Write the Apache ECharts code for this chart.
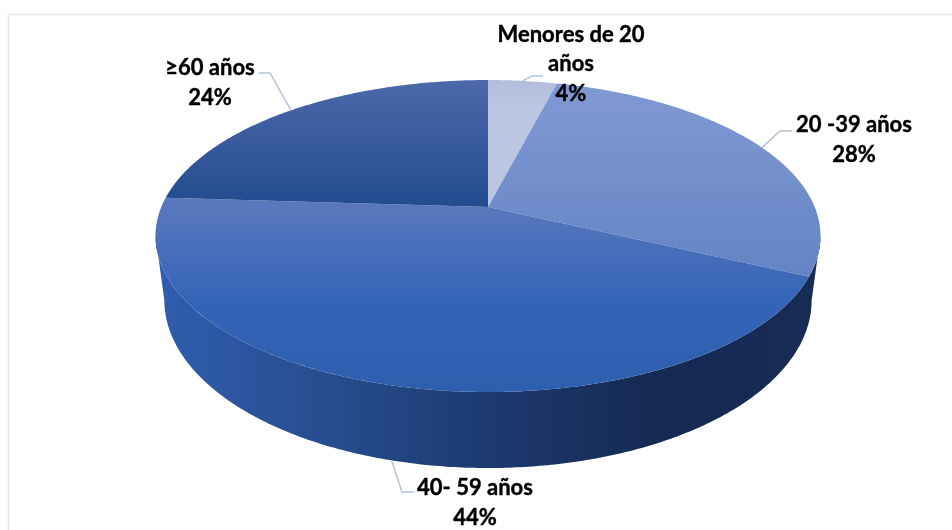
<!DOCTYPE html>
<html><head><meta charset="utf-8">
<style>html,body{margin:0;padding:0;background:#fff}#c{width:952px;height:530px}</style>
<script src="https://cdn.jsdelivr.net/npm/echarts@6/dist/echarts.min.js"></script>
</head><body><div id="c"></div>
<script>
const categories = ['Menores de 20\naños', '20 -39 años', '40- 59 años', '≥60 años'];
const values = [4, 28, 44, 24];

// projection of the tilted disc (styles and layout, not data)
const TOP = {cx: 488, cy: 207, a: 326.7, b: 150.6, p: 0.186};
const BASE = {cx: 488, cy: 269, a: 318, b: 162, p: 0.186};
const FACE = [
  {y0: 80, y1: 110, c0: '#b3bedd', c1: '#bcc6e2'},
  {y0: 84, y1: 277, c0: '#8099d3', c1: '#6584c4'},
  {y0: 197, y1: 300, c0: '#5c79bd', c1: '#3464b8', c2: '#2e5eae', y2: 392},
  {y0: 80, y1: 207, c0: '#4c69a9', c1: '#234b90'}
];
const WALL_STOPS = [[0,'#2f5dad'],[0.2,'#2a5096'],[0.5,'#1c3a70'],[0.75,'#152a52'],[1,'#172b54']];
const LABELS = [
  {x: 571, y: 64, elbow: [532, 76], end: [543, 76]},
  {x: 854, y: 140, elbow: [780, 131], end: [792, 131]},
  {x: 475, y: 503, elbow: [402, 492], end: [414, 492]},
  {x: 210, y: 83, elbow: [270, 73], end: [259, 73]}
];
const FONT = 'Lato';

const total = values.reduce((s, v) => s + v, 0);
const startOf = i => values.slice(0, i).reduce((s, v) => s + v, 0) / total * Math.PI * 2;
function proj(P, t) {
  const u = Math.sin(t), v = Math.cos(t), w = 1 + P.p * v;
  return [P.cx + P.a * u / w, P.cy - P.b * v / w];
}
function arc(P, t0, t1) {
  const n = Math.max(2, Math.ceil(Math.abs(t1 - t0) / 0.01)), pts = [];
  for (let k = 0; k <= n; k++) pts.push(proj(P, t0 + (t1 - t0) * k / n));
  return pts;
}
const R = Math.acos(-TOP.p), L = Math.PI * 2 - R;

function renderWall(params, api) {
  const i = api.value(0);
  const t0 = Math.max(startOf(i), R), t1 = Math.min(startOf(i + 1) + 0.012, L);
  if (t1 <= t0) return {type: 'group', children: []};
  const pts = arc(TOP, t0, t1).concat(arc(BASE, t1, t0));
  return {type: 'polygon', shape: {points: pts}, silent: true, style: {
    fill: {type: 'linear', global: true, x: 160, y: 0, x2: 815, y2: 0,
      colorStops: WALL_STOPS.map(s => ({offset: s[0], color: s[1]}))}
  }};
}
function renderFace(params, api) {
  const i = api.value(0), f = FACE[i];
  const pts = [[TOP.cx, TOP.cy]].concat(arc(TOP, startOf(i), startOf(i + 1)));
  const yEnd = f.y2 || f.y1;
  const stops = [{offset: 0, color: f.c0}, {offset: (f.y1 - f.y0) / (yEnd - f.y0), color: f.c1}];
  if (f.c2) stops.push({offset: 1, color: f.c2});
  return {type: 'polygon', shape: {points: pts}, silent: true, style: {
    fill: {type: 'linear', global: true, x: 0, y: f.y0, x2: 0, y2: yEnd, colorStops: stops}
  }};
}
function renderLabel(params, api) {
  const i = api.value(0), l = LABELS[i];
  const mid = (startOf(i) + startOf(i + 1)) / 2;
  const front = Math.cos(mid) < -0.5;
  const anchor = proj(front ? BASE : TOP, mid);
  return {type: 'group', silent: true, children: [
    {type: 'polyline', shape: {points: [anchor, l.elbow, l.end]},
      style: {fill: null, stroke: '#b4c3d6', lineWidth: 1.5}},
    {type: 'text', x: l.x, y: l.y, style: {
      text: categories[i] + '\n' + api.value(1) + '%',
      fill: '#000', stroke: '#000', lineWidth: 0.4,
      font: 'bold 22px ' + FONT, lineHeight: 29.5,
      align: 'center', verticalAlign: 'middle'
    }}
  ]};
}
const data = values.map((v, i) => ({name: categories[i], value: [i, v]}));
const chart = echarts.init(document.getElementById('c'), null, {renderer: 'canvas'});
chart.setOption({
  animation: false,
  backgroundColor: '#fff',
  graphic: [{type: 'polyline', z: 0, silent: true,
    shape: {points: [[8.5, 530], [8.5, 14.5], [952, 14.5]]},
    style: {fill: null, stroke: '#e0e7f0', lineWidth: 1.5}}],
  series: [
    {type: 'custom', coordinateSystem: 'none', z: 2, data, renderItem: renderWall, silent: true},
    {type: 'custom', coordinateSystem: 'none', z: 3, data, renderItem: renderFace, silent: true},
    {type: 'custom', coordinateSystem: 'none', z: 4, data, renderItem: renderLabel, silent: true}
  ]
});
</script></body></html>
